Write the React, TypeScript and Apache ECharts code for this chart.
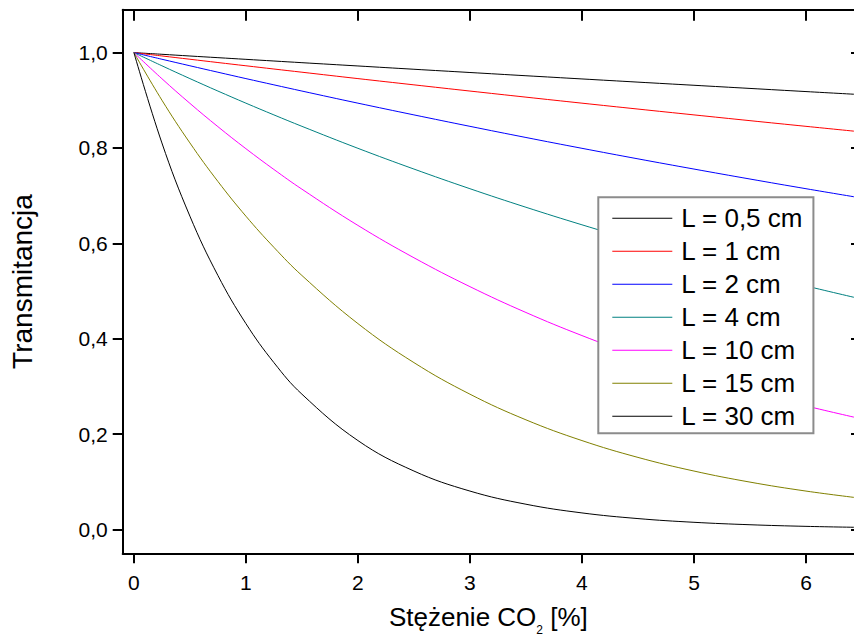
import React, { useEffect, useRef } from "react";
import * as echarts from "echarts";

// Concentration of CO2 [%] (x values of the sampled points)
const concentration = [0, 0.25, 0.5, 0.75, 1, 1.25, 1.5, 2, 2.5, 3, 3.5, 4, 4.5, 5, 5.5, 6, 6.5];

// Transmittance, one array per path length
const tL05 = [1, 0.9965, 0.9929, 0.9894, 0.9859, 0.9824, 0.9789, 0.972, 0.9651, 0.9583, 0.9515, 0.9448, 0.9381, 0.9315, 0.9249, 0.9183, 0.9118];
const tL1 = [1, 0.993, 0.9861, 0.9792, 0.9724, 0.9656, 0.9589, 0.9455, 0.9324, 0.9194, 0.9066, 0.894, 0.8816, 0.8694, 0.8573, 0.8454, 0.8336];
const tL2 = [1, 0.9861, 0.9724, 0.9589, 0.9455, 0.9324, 0.9194, 0.894, 0.8694, 0.8454, 0.822, 0.7993, 0.7772, 0.7558, 0.7349, 0.7146, 0.6949];
const tL4 = [1, 0.9724, 0.9455, 0.9194, 0.894, 0.8694, 0.8454, 0.7993, 0.7558, 0.7146, 0.6757, 0.6389, 0.6041, 0.5712, 0.5401, 0.5107, 0.4829];
const tL10 = [1, 0.9453, 0.8936, 0.8447, 0.7985, 0.7549, 0.7136, 0.6376, 0.5698, 0.5092, 0.455, 0.4066, 0.3633, 0.3247, 0.2901, 0.2592, 0.2317];
const tL15 = [1, 0.9003, 0.8106, 0.7298, 0.657, 0.5916, 0.5326, 0.4317, 0.3499, 0.2837, 0.2299, 0.1864, 0.1511, 0.1225, 0.0993, 0.0805, 0.0652];
const tL30 = [1, 0.8106, 0.657, 0.5326, 0.4317, 0.3499, 0.2837, 0.1864, 0.1225, 0.0805, 0.0529, 0.0347, 0.0228, 0.015, 0.0099, 0.0065, 0.0043];

const seriesNames = ["L = 0,5 cm", "L = 1 cm", "L = 2 cm", "L = 4 cm", "L = 10 cm", "L = 15 cm", "L = 30 cm"];
const seriesColors = ["#000000", "#FF0000", "#0000FF", "#008080", "#FF00FF", "#808000", "#000000"];

const xTicks = [0, 1, 2, 3, 4, 5, 6];
const yTicks = [0, 0.2, 0.4, 0.6, 0.8, 1.0];

const FONT = '"Liberation Sans", Arial, sans-serif';

export default function App() {
  const ref = useRef<HTMLDivElement>(null);

  useEffect(() => {
    if (!ref.current) return;
    const chart = echarts.init(ref.current, null, { renderer: "svg" });
    const allValues = [tL05, tL1, tL2, tL4, tL10, tL15, tL30];

    const axisLine = { show: true, onZero: false, lineStyle: { color: "#000", width: 2 } };
    const tickStyle = { color: "#000", width: 2 };

    const option: any = {
      animation: false,
      backgroundColor: "#ffffff",
      textStyle: { fontFamily: FONT },
      grid: {
        left: 122.7,
        right: 18,
        top: 9.7,
        bottom: 89.7,
        containLabel: false,
        outerBoundsMode: "none",
      },
      legend: {
        orient: "vertical",
        left: 598.3,
        top: 197.3,
        padding: [8, 10, 4, 14],
        itemGap: 7,
        itemWidth: 60,
        itemHeight: 1,
        icon: "rect",
        backgroundColor: "#ffffff",
        borderColor: "#8c8c8c",
        borderWidth: 2,
        textStyle: { fontSize: 26, lineHeight: 26, color: "#000", fontFamily: FONT, padding: [0, 0, 0, 4] },
        data: seriesNames,
      },
      xAxis: [
        {
          type: "value",
          position: "bottom",
          min: -0.1,
          max: 6.5,
          axisLine,
          axisTick: { show: true, inside: false, length: 10, lineStyle: tickStyle, customValues: xTicks },
          axisLabel: {
            customValues: xTicks,
            margin: 19,
            fontSize: 21,
            color: "#000",
            fontFamily: FONT,
            formatter: (v: number) => String(v),
          },
          splitLine: { show: false },
          name: "Stężenie CO{sub|2} [%]",
          nameLocation: "middle",
          nameGap: 47,
          nameTextStyle: {
            fontSize: 26,
            lineHeight: 30,
            color: "#000",
            fontFamily: FONT,
            padding: [0, 8, 0, 0],
            rich: {
              sub: { fontSize: 12, lineHeight: 8, padding: [26, 0, 0, 0], color: "#000", fontFamily: FONT },
            },
          },
        },
        {
          type: "value",
          position: "top",
          min: -0.1,
          max: 6.5,
          axisLine,
          axisTick: { show: true, inside: true, length: 11, lineStyle: tickStyle, customValues: xTicks },
          axisLabel: { show: false },
          splitLine: { show: false },
        },
      ],
      yAxis: [
        {
          type: "value",
          position: "left",
          min: -0.05,
          max: 1.09,
          axisLine,
          axisTick: { show: true, inside: false, length: 10, lineStyle: tickStyle, customValues: yTicks },
          axisLabel: {
            customValues: yTicks,
            margin: 15,
            fontSize: 21,
            color: "#000",
            fontFamily: FONT,
            formatter: (v: number) => v.toFixed(1).replace(".", ","),
          },
          splitLine: { show: false },
          name: "Transmitancja",
          nameLocation: "middle",
          nameGap: 86,
          nameTextStyle: { fontSize: 28, color: "#000", fontFamily: FONT },
        },
        {
          type: "value",
          position: "right",
          min: -0.05,
          max: 1.09,
          axisLine,
          axisTick: { show: true, inside: true, length: 11, lineStyle: tickStyle, customValues: yTicks },
          axisLabel: { show: false },
          splitLine: { show: false },
        },
      ],
      series: allValues.map((vals, i) => ({
        name: seriesNames[i],
        type: "line",
        xAxisIndex: 0,
        yAxisIndex: 0,
        symbol: "none",
        smooth: 0.4,
        lineStyle: { color: seriesColors[i], width: 1 },
        itemStyle: { color: seriesColors[i] },
        data: concentration.map((c, j) => [c, vals[j]]),
      })),
    };

    chart.setOption(option);
    return () => chart.dispose();
  }, []);

  return (
    <div
      style={{
        position: "fixed",
        left: 0,
        top: 0,
        width: 854,
        height: 643,
        overflow: "hidden",
        background: "#fff",
      }}
    >
      <div ref={ref} style={{ width: 880, height: 643 }} />
    </div>
  );
}
